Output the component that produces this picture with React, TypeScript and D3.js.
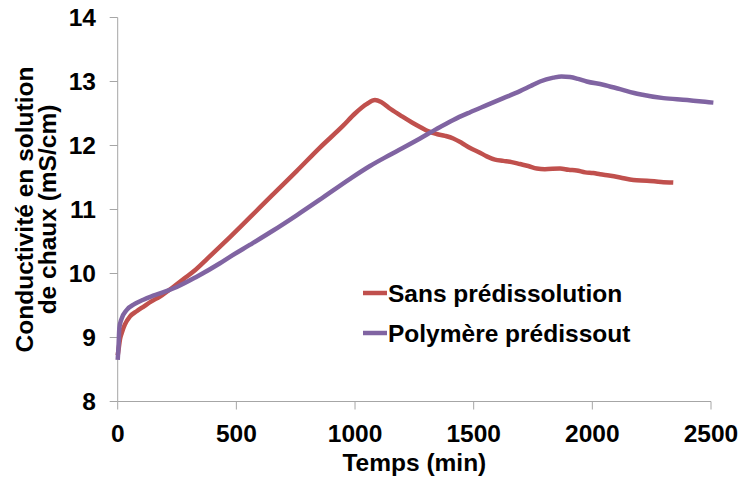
import React from "react";
import * as d3 from "d3";

const xTicks = [0, 500, 1000, 1500, 2000, 2500];
const yTicks = [8, 9, 10, 11, 12, 13, 14];

const seriesNames = ["Sans prédissolution", "Polymère prédissout"];
const seriesColors = ["#C0504D", "#8064A2"];

const redTimes = [0, 5, 10, 17, 30, 52, 80, 108, 140, 178, 234, 280, 319, 380, 431, 473, 520, 558, 650, 754, 850, 950, 1000, 1050, 1084, 1110, 1150, 1200, 1240, 1274, 1310, 1344, 1380, 1414, 1450, 1485, 1520, 1555, 1590, 1625, 1660, 1695, 1730, 1766, 1800, 1864, 1900, 1934, 1970, 2004, 2033, 2070, 2117, 2173, 2230, 2290, 2341];
const redValues = [8.72, 8.85, 8.98, 9.07, 9.2, 9.33, 9.41, 9.48, 9.56, 9.64, 9.79, 9.92, 10.03, 10.24, 10.42, 10.57, 10.74, 10.88, 11.22, 11.6, 11.96, 12.31, 12.5, 12.65, 12.71, 12.68, 12.57, 12.45, 12.36, 12.29, 12.22, 12.18, 12.15, 12.11, 12.04, 11.96, 11.9, 11.83, 11.78, 11.76, 11.74, 11.71, 11.68, 11.64, 11.63, 11.64, 11.62, 11.61, 11.58, 11.57, 11.55, 11.53, 11.5, 11.46, 11.45, 11.43, 11.42];

const purpleTimes = [0, 4, 7, 15, 38, 70, 108, 140, 178, 249, 333, 431, 473, 558, 650, 754, 850, 979, 1063, 1150, 1274, 1344, 1414, 1485, 1555, 1625, 1695, 1740, 1780, 1836, 1870, 1906, 1940, 1976, 2046, 2117, 2200, 2300, 2400, 2450, 2510];
const purpleValues = [8.65, 8.9, 9.15, 9.28, 9.43, 9.52, 9.59, 9.64, 9.69, 9.79, 9.95, 10.16, 10.26, 10.45, 10.66, 10.91, 11.15, 11.48, 11.68, 11.86, 12.11, 12.26, 12.4, 12.52, 12.63, 12.74, 12.85, 12.93, 13.0, 13.06, 13.08, 13.07, 13.04, 13.0, 12.95, 12.88, 12.8, 12.74, 12.71, 12.69, 12.67];

const FONT = "'Liberation Sans', Arial, sans-serif";
const FS = 24.5;

export default function App() {
  const W = 740, H = 479;
  const x = d3.scaleLinear().domain([0, 2500]).range([117.7, 711]);
  const y = d3.scaleLinear().domain([8, 14]).range([401.5, 17.5]);
  const line = d3
    .line<[number, number]>()
    .x((d) => x(d[0]))
    .y((d) => y(d[1]))
    .curve(d3.curveMonotoneX);

  const series = [
    redTimes.map((t, i) => [t, redValues[i]] as [number, number]),
    purpleTimes.map((t, i) => [t, purpleValues[i]] as [number, number]),
  ];
  const axisColor = "#A6A6A6";
  const legendY = [293, 333];

  return (
    <svg
      width={W}
      height={H}
      style={{ position: "absolute", left: 0, top: 0, background: "#fff" }}
      fontFamily={FONT}
      fontWeight="bold"
    >
      <rect width={W} height={H} fill="#fff" />
      {/* axes */}
      <line x1={x(0)} x2={x(0)} y1={y(14)} y2={y(8)} stroke={axisColor} strokeWidth={1} />
      <line x1={x(0)} x2={x(2500)} y1={y(8)} y2={y(8)} stroke={axisColor} strokeWidth={1} />
      {yTicks.map((t) => (
        <g key={"y" + t}>
          <line x1={x(0) - 8} x2={x(0)} y1={y(t)} y2={y(t)} stroke={axisColor} strokeWidth={1} />
          <text x={96} y={y(t) + 0.36 * FS} textAnchor="end" fontSize={FS} fill="#000">
            {t}
          </text>
        </g>
      ))}
      {xTicks.map((t) => (
        <g key={"x" + t}>
          <line x1={x(t)} x2={x(t)} y1={y(8)} y2={y(8) + 8} stroke={axisColor} strokeWidth={1} />
          <text x={x(t)} y={441.7} textAnchor="middle" fontSize={FS} fill="#000">
            {t}
          </text>
        </g>
      ))}
      {/* axis titles */}
      <text x={(x(0) + x(2500)) / 2} y={471} textAnchor="middle" fontSize={FS} fill="#000">
        Temps (min)
      </text>
      <text transform={`translate(33,${(y(8) + y(14)) / 2}) rotate(-90)`} textAnchor="middle" fontSize={FS} fill="#000">
        Conductivité en solution
      </text>
      <text transform={`translate(56,${(y(8) + y(14)) / 2}) rotate(-90)`} textAnchor="middle" fontSize={FS} fill="#000">
        de chaux (mS/cm)
      </text>
      {/* series */}
      {series.map((s, i) => (
        <path
          key={"s" + i}
          d={line(s) || ""}
          fill="none"
          stroke={seriesColors[i]}
          strokeWidth={4.5}
          strokeLinejoin="round"
        />
      ))}
      {/* legend */}
      {seriesNames.map((n, i) => (
        <g key={"l" + i}>
          <line x1={363} x2={387} y1={legendY[i]} y2={legendY[i]} stroke={seriesColors[i]} strokeWidth={4.5} />
          <text x={388} y={legendY[i] + 0.36 * FS} fontSize={FS} fill="#000">
            {n}
          </text>
        </g>
      ))}
    </svg>
  );
}
